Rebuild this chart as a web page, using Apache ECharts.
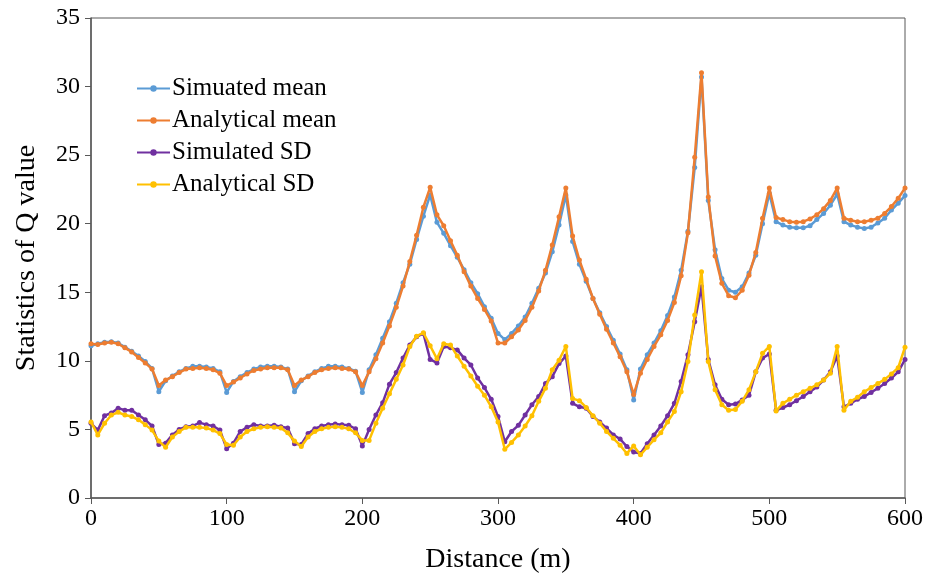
<!DOCTYPE html>
<html>
<head>
<meta charset="utf-8">
<script src="https://cdn.jsdelivr.net/npm/echarts@6/dist/echarts.min.js"></script>
<style>html,body{margin:0;padding:0;background:#fff}#c{width:928px;height:583px}</style>
</head>
<body>
<div id="c"></div>
<script>
const distance = [0,5,10,15,20,25,30,35,40,45,50,55,60,65,70,75,80,85,90,95,100,105,110,115,120,125,130,135,140,145,150,155,160,165,170,175,180,185,190,195,200,205,210,215,220,225,230,235,240,245,250,255,260,265,270,275,280,285,290,295,300,305,310,315,320,325,330,335,340,345,350,355,360,365,370,375,380,385,390,395,400,405,410,415,420,425,430,435,440,445,450,455,460,465,470,475,480,485,490,495,500,505,510,515,520,525,530,535,540,545,550,555,560,565,570,575,580,585,590,595,600];

const simulatedMean = [11.1,11.25,11.35,11.4,11.3,11.0,10.7,10.35,9.95,9.45,7.75,8.55,8.9,9.2,9.45,9.6,9.6,9.55,9.45,9.2,7.7,8.5,8.85,9.15,9.4,9.55,9.6,9.6,9.55,9.4,7.75,8.55,8.9,9.2,9.45,9.6,9.6,9.55,9.45,9.25,7.7,9.35,10.45,11.65,12.85,14.2,15.7,17.05,18.85,20.55,22.1,20.1,19.3,18.4,17.55,16.65,15.7,14.9,13.95,13.1,12.0,11.55,12.0,12.55,13.2,14.2,15.3,16.4,17.95,19.9,22.1,18.7,17.05,15.8,14.55,13.5,12.5,11.5,10.5,9.35,7.15,9.4,10.45,11.3,12.2,13.3,14.65,16.6,19.45,24.1,30.7,21.7,18.1,16.0,15.15,15.0,15.4,16.4,17.7,20.0,22.2,20.15,19.9,19.75,19.7,19.7,19.85,20.3,20.75,21.35,22.15,20.15,19.9,19.75,19.65,19.75,20.05,20.4,21.0,21.5,22.05];

const analyticalMean = [11.25,11.2,11.3,11.35,11.25,10.95,10.65,10.25,9.85,9.4,8.2,8.6,8.85,9.15,9.4,9.45,9.5,9.45,9.35,9.1,8.2,8.45,8.75,9.05,9.3,9.4,9.5,9.5,9.5,9.35,8.2,8.6,8.85,9.15,9.35,9.45,9.5,9.45,9.4,9.2,8.2,9.2,10.15,11.3,12.55,13.9,15.45,17.25,19.15,21.2,22.65,20.65,19.85,18.75,17.7,16.5,15.45,14.55,13.75,12.9,11.3,11.3,11.75,12.25,12.95,13.9,15.1,16.6,18.45,20.5,22.6,19.1,17.35,15.95,14.55,13.4,12.3,11.3,10.3,9.2,7.55,9.1,10.1,11.05,11.9,12.95,14.25,16.2,19.35,24.85,31.0,21.95,17.65,15.65,14.75,14.6,15.15,16.25,17.9,20.4,22.6,20.45,20.3,20.15,20.1,20.15,20.35,20.65,21.1,21.7,22.6,20.4,20.25,20.15,20.15,20.25,20.4,20.75,21.25,21.85,22.6];

const simulatedSD = [5.45,4.95,6.0,6.2,6.55,6.4,6.4,6.05,5.7,5.25,3.9,4.0,4.6,5.0,5.2,5.25,5.5,5.35,5.25,4.95,3.6,4.0,4.85,5.15,5.35,5.25,5.25,5.3,5.2,5.1,3.95,3.9,4.7,5.05,5.25,5.35,5.4,5.35,5.3,5.05,3.8,5.0,6.05,6.95,8.3,9.15,10.2,11.15,11.75,12.0,10.1,9.85,11.05,10.95,10.8,10.2,9.7,8.75,8.05,7.2,5.95,4.1,4.85,5.3,6.05,6.8,7.4,8.35,8.85,9.8,10.35,6.9,6.65,6.55,5.95,5.55,5.1,4.6,4.3,3.75,3.35,3.25,3.95,4.6,5.25,6.0,6.9,8.5,10.45,12.85,15.4,10.1,8.25,7.2,6.8,6.85,7.15,7.5,9.2,10.2,10.5,6.4,6.6,6.8,7.1,7.4,7.75,8.1,8.6,9.2,10.35,6.65,6.9,7.2,7.4,7.7,8.0,8.35,8.75,9.2,10.1];

const analyticalSD = [5.55,4.6,5.45,6.05,6.25,6.05,5.95,5.7,5.35,4.95,4.15,3.7,4.45,4.85,5.15,5.15,5.15,5.1,4.95,4.7,3.9,3.85,4.45,4.85,5.05,5.15,5.2,5.15,5.1,4.75,4.15,3.75,4.45,4.85,5.05,5.15,5.2,5.15,5.05,4.75,4.2,4.2,5.45,6.55,7.6,8.65,9.7,11.05,11.8,12.05,11.1,10.15,11.25,11.15,10.35,9.6,8.9,8.15,7.5,6.65,5.55,3.55,4.05,4.6,5.25,6.0,7.05,8.0,9.35,10.05,11.05,7.25,7.1,6.6,6.0,5.45,4.85,4.35,3.85,3.25,3.8,3.15,3.7,4.25,4.75,5.55,6.3,7.75,9.95,13.35,16.5,9.95,7.9,6.8,6.4,6.45,7.05,7.9,9.2,10.55,11.05,6.35,6.9,7.2,7.5,7.75,8.0,8.25,8.6,9.1,11.05,6.4,7.05,7.35,7.75,8.05,8.35,8.65,9.05,9.5,11.0];

const seriesNames = ['Simuated mean','Analytical mean','Simulated SD','Analytical SD'];
const seriesColors = ['#5B9BD5','#ED7D31','#7030A0','#FFC000'];
const seriesValues = [simulatedMean, analyticalMean, simulatedSD, analyticalSD];

const font = '"Liberation Serif", "Times New Roman", serif';
const chart = echarts.init(document.getElementById('c'), null, {renderer: 'canvas'});

const series = seriesValues.map((vals, i) => ({
  name: seriesNames[i],
  type: 'line',
  data: distance.map((d, k) => [d, vals[k]]),
  symbol: 'circle',
  symbolSize: 5,
  showSymbol: true,
  lineStyle: {width: 2.5, color: seriesColors[i]},
  itemStyle: {color: seriesColors[i]},
  z: 2 + i
}));

chart.setOption({
  animation: false,
  backgroundColor: '#fff',
  textStyle: {fontFamily: font},
  grid: {left: 91, right: 23, top: 18, bottom: 85, show: true, borderColor: '#595959', borderWidth: 1},
  legend: {
    orient: 'vertical', left: 131, top: 71, itemGap: 7, itemWidth: 33, itemHeight: 8,
    textStyle: {fontFamily: font, fontSize: 25, color: '#000', padding: [0, 0, 0, -3]},
    data: seriesNames
  },
  xAxis: {
    type: 'value', min: 0, max: 600, interval: 100,
    name: 'Distance (m)', nameLocation: 'middle', nameGap: 48,
    nameTextStyle: {fontFamily: font, fontSize: 28, color: '#000'},
    axisLine: {show: true, lineStyle: {color: '#595959', width: 1.5}},
    axisTick: {show: true, inside: false, length: 6, lineStyle: {color: '#595959'}},
    axisLabel: {fontFamily: font, fontSize: 24, color: '#000', margin: 9},
    splitLine: {show: false}
  },
  yAxis: {
    type: 'value', min: 0, max: 35, interval: 5,
    name: 'Statistics of Q value', nameLocation: 'middle', nameGap: 50,
    nameTextStyle: {fontFamily: font, fontSize: 28, color: '#000'},
    axisLine: {show: true, lineStyle: {color: '#595959', width: 1.5}},
    axisTick: {show: true, inside: false, length: 6, lineStyle: {color: '#595959'}},
    axisLabel: {fontFamily: font, fontSize: 24, color: '#000', margin: 11},
    splitLine: {show: false}
  },
  series: series
});
</script>
</body>
</html>
